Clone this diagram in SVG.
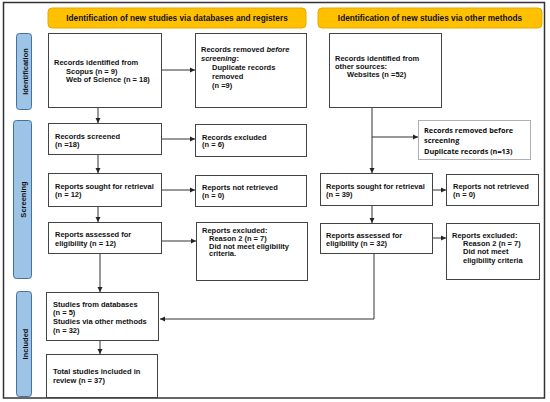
<svg xmlns="http://www.w3.org/2000/svg" width="550" height="402" viewBox="0 0 550 402">
<defs>
<marker id="ah" markerWidth="6" markerHeight="6" refX="5" refY="3" orient="auto" markerUnits="userSpaceOnUse">
<path d="M0,0.5 L5,3 L0,5.5 Z" fill="#222"/>
</marker>
<style>
.box{fill:#fff;stroke:#444;stroke-width:1}
.gbox{fill:#fff;stroke:#b0b0b0;stroke-width:1}
.hdr{fill:#FFC000;stroke:#E8A900;stroke-width:1}
.side{fill:#9DC3E6;stroke:#41719C;stroke-width:1}
text{font-family:"Liberation Sans",Arial,sans-serif;font-size:7.5px;font-weight:bold;fill:#111}
.ht{font-size:8.25px}
.cal{font-family:"Open Sans","Liberation Sans",sans-serif;font-size:7.3px;font-weight:bold}
.ln{fill:none;stroke:#333;stroke-width:1}
.arr{fill:none;stroke:#333;stroke-width:1;marker-end:url(#ah)}
</style>
</defs>
<rect x="3.5" y="2.5" width="541" height="395.5" fill="#fff" stroke="#333" stroke-width="1.5"/>

<g id="header-left"><rect class="hdr" x="48" y="8" width="258" height="20" rx="4"/><text class="ht" x="177" y="21" text-anchor="middle">Identification of new studies via databases and registers</text></g>
<g id="header-right"><rect class="hdr" x="318" y="8" width="224" height="20" rx="4"/><text class="ht" x="430" y="21" text-anchor="middle">Identification of new studies via other methods</text></g>

<g id="side-identification"><rect class="side" x="16.5" y="33.5" width="15" height="76" rx="3"/><text transform="translate(27.5,71.5) rotate(-90)" text-anchor="middle">Identification</text></g>
<g id="side-screening"><rect class="side" x="13.5" y="120.5" width="18" height="158" rx="3"/><text transform="translate(25.5,199.5) rotate(-90)" text-anchor="middle">Screening</text></g>
<g id="side-included"><rect class="side" x="16.5" y="291.5" width="15" height="105" rx="3"/><text transform="translate(27.5,344) rotate(-90)" text-anchor="middle">Included</text></g>

<g id="connectors">
<path class="arr" d="M162,70 H195"/>
<path class="arr" d="M98,108 V123"/>
<path class="arr" d="M162,139 H195"/>
<path class="arr" d="M98,155 V173"/>
<path class="arr" d="M162,190 H195"/>
<path class="arr" d="M98,207 V222"/>
<path class="arr" d="M162,241 H196"/>
<path class="arr" d="M100,254 V292"/>
<path class="arr" d="M100,341 V354"/>
<path class="arr" d="M372,108 V173"/>
<path class="arr" d="M372,137 H418"/>
<path class="arr" d="M433,190 H446"/>
<path class="arr" d="M372,206 V223"/>
<path class="arr" d="M433,238 H446"/>
<path class="arr" d="M374,254 V319 H160"/>
</g>

<g id="n-records-identified"><rect class="box" x="48.5" y="33.5" width="113" height="74"/>
<text x="54" y="65">Records identified from</text>
<text x="66" y="73.5">Scopus (n = 9)</text>
<text x="66" y="82">Web of Science (n = 18)</text></g>

<g id="n-records-removed"><rect class="box" x="195.5" y="33.5" width="111" height="74"/>
<text x="201" y="52">Records removed <tspan font-style="italic">before</tspan></text>
<text x="201" y="60.5"><tspan font-style="italic">screening</tspan>:</text>
<text x="212" y="69.5">Duplicate records</text>
<text x="212" y="78.5">removed</text>
<text x="212" y="87.5">(n =9)</text></g>

<g id="n-records-screened"><rect class="box" x="48.5" y="123.5" width="113" height="31"/>
<text x="55" y="138.5">Records screened</text>
<text x="55" y="147">(n =18)</text></g>

<g id="n-records-excluded"><rect class="box" x="195.5" y="124.5" width="111" height="32"/>
<text x="202" y="139.5">Records excluded</text>
<text x="202" y="147">(n = 6)</text></g>

<g id="n-sought-left"><rect class="box" x="48.5" y="173.5" width="113" height="33"/>
<text x="55" y="188.5">Reports sought for retrieval</text>
<text x="55" y="196.5">(n = 12)</text></g>

<g id="n-notretrieved-left"><rect class="box" x="195.5" y="175.5" width="111" height="31"/>
<text x="202" y="189.5">Reports not retrieved</text>
<text x="202" y="197.5">(n = 0)</text></g>

<g id="n-assessed-left"><rect class="box" x="48.5" y="222.5" width="113" height="31"/>
<text x="55" y="236.5">Reports assessed for</text>
<text x="55" y="245.5">eligibility (n = 12)</text></g>

<g id="n-excluded-left"><rect class="box" x="196.5" y="222.5" width="111" height="58"/>
<text x="202" y="232.5">Reports excluded:</text>
<text x="209" y="240.5">Reason 2 (n = 7)</text>
<text x="209" y="248.5">Did not meet eligibility</text>
<text x="209" y="256">criteria.</text></g>

<g id="n-studies"><rect class="box" x="46.5" y="292.5" width="112" height="48"/>
<text x="53" y="306.5">Studies from databases</text>
<text x="53" y="314.5">(n = 5)</text>
<text x="53" y="323.5">Studies via other methods</text>
<text x="53" y="332.5">(n = 32)</text></g>

<g id="n-total"><rect class="box" x="46.5" y="354.5" width="111" height="43"/>
<text x="53" y="373.5">Total studies included in</text>
<text x="53" y="382.5">review (n = 37)</text></g>

<g id="n-records-other"><rect class="box" x="329.5" y="33.5" width="112" height="74"/>
<text x="335" y="60.5">Records identified from</text>
<text x="335" y="69">other sources:</text>
<text x="347" y="77">Websites (n =52)</text></g>

<g id="n-removed-right"><rect class="gbox" x="418.5" y="120.5" width="112" height="39"/>
<text class="cal" x="424" y="132.5">Records removed before</text>
<text class="cal" x="424" y="143">screening</text>
<text class="cal" x="424" y="153.5">Duplicate records (n=13)</text></g>

<g id="n-sought-right"><rect class="box" x="320.5" y="173.5" width="112" height="32"/>
<text x="326" y="188.5">Reports sought for retrieval</text>
<text x="326" y="196.5">(n = 39)</text></g>

<g id="n-notretrieved-right"><rect class="box" x="446.5" y="174.5" width="92" height="31"/>
<text x="453" y="188.5">Reports not retrieved</text>
<text x="453" y="196.5">(n = 0)</text></g>

<g id="n-assessed-right"><rect class="box" x="320.5" y="223.5" width="112" height="30"/>
<text x="326" y="237.5">Reports assessed for</text>
<text x="326" y="245.5">eligibility (n = 32)</text></g>

<g id="n-excluded-right"><rect class="box" x="446.5" y="223.5" width="93" height="56"/>
<text x="452" y="237.5">Reports excluded:</text>
<text x="463" y="245.5">Reason 2 (n = 7)</text>
<text x="463" y="254">Did not meet</text>
<text x="463" y="263">eligibility criteria</text></g>
</svg>
